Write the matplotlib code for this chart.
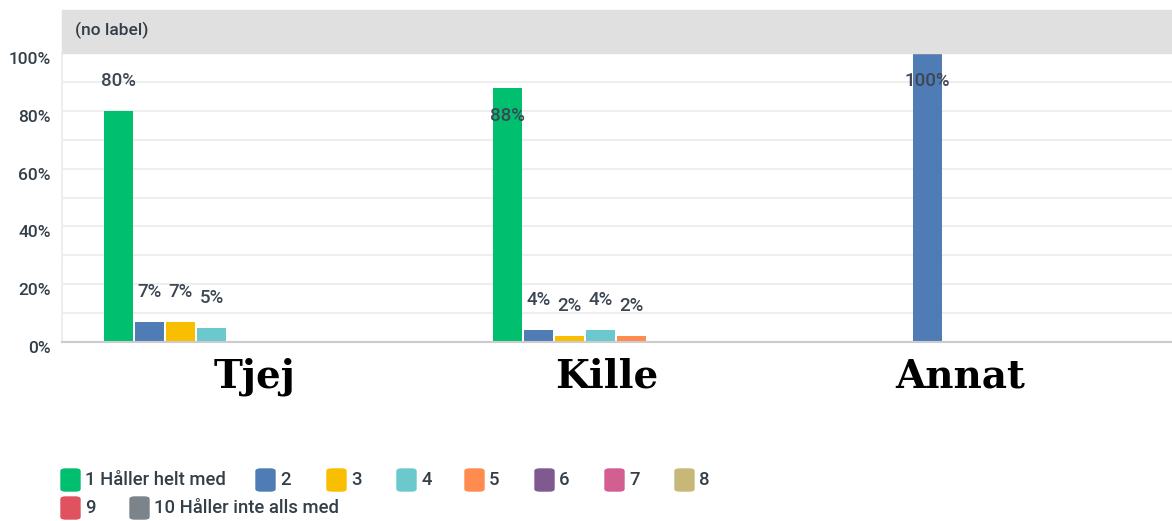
import matplotlib
matplotlib.use("Agg")
import matplotlib.pyplot as plt
from matplotlib.patches import FancyBboxPatch, Rectangle
import matplotlib.transforms as mtransforms

categories = ["Tjej", "Kille", "Annat"]
series_names = ["1 Håller helt med", "2", "3", "4", "5", "6", "7", "8", "9",
                "10 Håller inte alls med"]
colors = ["#00bf6f", "#507cb6", "#f9be00", "#6bc8cd", "#ff8b4f", "#7f5a8f",
          "#d25f90", "#c7b879", "#e05260", "#7c848b"]
# values[series][category]
values = [
    [80, 88, 0],
    [7, 4, 100],
    [7, 2, 0],
    [5, 4, 0],
    [0, 2, 0],
    [0, 0, 0],
    [0, 0, 0],
    [0, 0, 0],
    [0, 0, 0],
    [0, 0, 0],
]
ytick_labels = ["0%", "", "20%", "", "40%", "", "60%", "", "80%", "", "100%"]

W, H = 1172, 521
fig = plt.figure(figsize=(W / 100, H / 100), dpi=100)
plt.rcParams['font.family'] = ['Roboto', 'DejaVu Sans']
txtc = "#333e48"

ax_left, ax_right = 62 / W, 1.0
ax_bottom, ax_top = 1 - 342 / H, 1 - 53 / H
ax = fig.add_axes([ax_left, ax_bottom, ax_right - ax_left, ax_top - ax_bottom])

pitch = 0.0797
width = 0.0746
first = -0.398
for i, (vals, col) in enumerate(zip(values, colors)):
    xs = [c + first + i * pitch for c in range(len(categories))]
    for x, v in zip(xs, vals):
        if v <= 0:
            continue
        ax.bar(x, v, width=width, align="edge", color=col, zorder=3)
        off = -28 if v >= 85 else 30
        ax.annotate(f"{v}%", (x + width / 2, v), xytext=(0, off * 0.72),
                    textcoords="offset points", ha="center", va="center",
                    fontsize=13.5, color="#3d4754", fontweight="medium", zorder=5)

ax.set_xlim(-0.5064, 2.347)
ax.set_ylim(0, 100)
ax.set_yticks(range(0, 101, 10))
ax.set_yticklabels(ytick_labels)
ax.tick_params(axis="y", length=0, pad=8, labelsize=12.5, labelcolor=txtc)
ax.tick_params(axis="x", length=0, labelbottom=False)
offset = mtransforms.ScaledTranslation(0, -5 / 100, fig.dpi_scale_trans)
for lab in ax.get_yticklabels():
    lab.set_transform(lab.get_transform() + offset)
    lab.set_fontweight("medium")
ax.grid(axis="y", color="#eeeeee", linewidth=1.5, zorder=0)
for s in ["top", "right"]:
    ax.spines[s].set_visible(False)
ax.spines["left"].set_color("#eeeeee")
ax.spines["left"].set_linewidth(1.5)
ax.spines["bottom"].set_color("#cccccc")
ax.spines["bottom"].set_linewidth(1.5)
ax.spines["bottom"].set_zorder(4)

# header band
fig.patches.append(Rectangle((62 / W, 1 - 53 / H), 1 - 62 / W, 43 / H,
                             transform=fig.transFigure, color="#e0e0e0", zorder=0))
fig.text(75 / W, 1 - 30 / H, "(no label)", fontsize=12.5, color=txtc,
         va="center", ha="left", fontweight="medium")

# category labels
cat_x = [255, 607, 960]
for cx, name in zip(cat_x, categories):
    fig.text(cx / W, 1 - 377 / H, name, ha="center", va="center",
             fontsize=28, family="DejaVu Serif", fontweight="bold",
             color="black")

# legend (flow layout)
legend_pos = [(61, 480), (256, 480), (327, 480), (397, 480), (465, 480),
              (535, 480), (605, 480), (675, 480), (61, 508), (130, 508)]
for (lx, ly), name, col in zip(legend_pos, series_names, colors):
    fig.patches.append(FancyBboxPatch((lx / W, 1 - (ly + 11) / H), 19 / W, 22 / H,
                                      boxstyle="round,pad=0,rounding_size=0.004",
                                      transform=fig.transFigure, color=col))
    fig.text((lx + 24) / W, 1 - ly / H, name, fontsize=13.3, color=txtc,
             va="center", ha="left", fontweight="medium")

fig.savefig("out.png", dpi=100)
